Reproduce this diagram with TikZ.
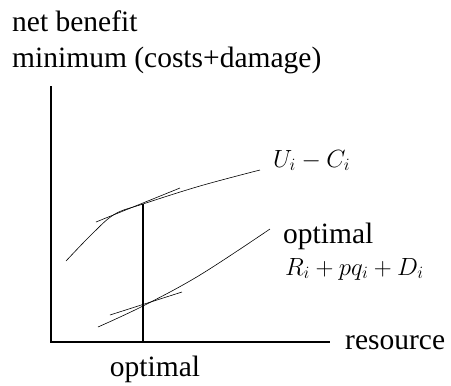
\documentclass[tikz,border=0pt]{standalone}
\usepackage{fontspec}
\setmainfont{Liberation Serif}
\usetikzlibrary{positioning}

\begin{document}
\begin{tikzpicture}[x=1pt,y=-1pt,
  axisline/.style={line width=1.3pt},
  curveline/.style={line width=0.6pt},
  txtlbl/.style={font=\fontsize{29.5}{34}\selectfont,inner sep=0pt},
  mathlbl/.style={font=\fontsize{25}{29}\selectfont,inner sep=0pt}]
\useasboundingbox (0,0) rectangle (451,386);
% ---- titles of the vertical axis
\node[txtlbl,anchor=base west] (ttlA) at (12,31) {net benefit};
\node[txtlbl,anchor=base west] (ttlB) at (12,67) {minimum (costs+damage)};
% ---- axes
\coordinate (org) at (51,342);
\coordinate (ytop) at (51,86);
\coordinate (xend) at (330,342);
\draw[axisline] (ytop) -- (org) -- (xend);
\node[txtlbl,anchor=base west] (res) at (345,349) {resource};
% ---- net benefit curve and its tangent
\coordinate (topT) at (143,204);
\draw[curveline] plot[smooth,tension=0.6] coordinates {(66,261) (93,233) (115,214) (topT) (200,186) (260,170)};
\draw[curveline] (96,222) -- (180,188);
\node[mathlbl,anchor=base west] (uc) at (273,167) {$U_i-C_i$};
% ---- cost curve and its tangent
\coordinate (botT) at (143,306);
\draw[curveline] plot[smooth,tension=0.6] coordinates {(98,327) (botT) (200,275) (270,229)};
\draw[curveline] (110,315) -- (182,292);
\node[txtlbl,anchor=base west] (optR) at (283,243) {optimal};
\node[mathlbl,anchor=base west] (rpd) at (285,275) {$R_i+pq_i+D_i$};
% ---- optimal resource
\coordinate (optX) at (143,342);
\draw[axisline,line width=1.1pt] (topT) -- (optX);
\node[txtlbl,anchor=base] (optB) at (155,376) {optimal};
\end{tikzpicture}
\end{document}
